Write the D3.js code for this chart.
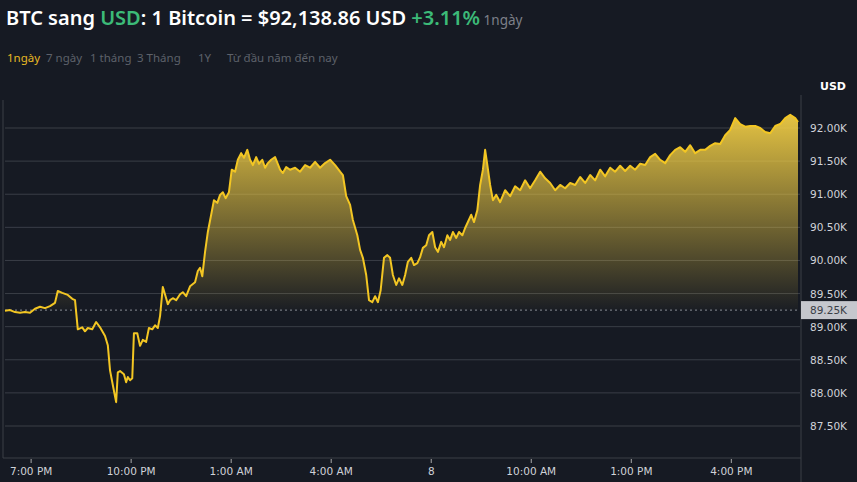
<!DOCTYPE html><html><head><meta charset="utf-8">
<script src="https://cdn.jsdelivr.net/npm/d3@7"></script>
<style>body{margin:0;background:#161a23;font-family:"Noto Sans",sans-serif}</style></head><body>
<svg id="c" width="857" height="482"></svg>
<script>
const minutes=[0,9,18,27,36,45,54,63,72,81,90,95,103,113,121,126,131,139,144,149,157,164,171,180,185,189,194,200,203,207,214,218,221,225,229,232,238,243,248,254,259,265,270,275,279,284,290,293,297,302,308,315,320,326,333,342,347,351,355,360,365,371,376,382,387,392,397,403,408,414,419,425,430,436,441,446,452,457,463,468,473,479,486,495,500,506,513,522,531,540,549,558,567,576,585,594,603,608,614,621,626,634,639,644,650,655,661,666,671,676,682,688,693,698,704,709,715,720,725,731,736,742,747,752,758,763,769,774,779,785,790,796,801,806,812,817,823,828,833,839,844,850,855,860,864,868,873,878,884,891,900,909,918,927,936,945,954,963,972,981,990,999,1008,1017,1026,1035,1044,1053,1062,1071,1080,1089,1098,1107,1116,1125,1134,1143,1152,1161,1170,1179,1188,1197,1206,1215,1224,1233,1242,1251,1260,1269,1278,1287,1296,1305,1314,1323,1332,1341,1350,1359,1368,1377,1386,1395,1404,1413,1422,1427];
const prices=[89.24,89.25,89.22,89.21,89.22,89.21,89.27,89.30,89.28,89.31,89.36,89.54,89.51,89.48,89.42,89.40,88.96,88.99,88.93,88.98,88.96,89.07,88.99,88.86,88.72,88.34,88.12,87.86,88.31,88.33,88.28,88.16,88.24,88.19,88.22,88.90,88.90,88.71,88.80,88.77,88.98,88.96,89.02,88.98,89.16,89.60,89.43,89.34,89.40,89.43,89.40,89.49,89.52,89.46,89.61,89.67,89.84,89.89,89.76,90.13,90.43,90.69,90.91,90.87,90.99,91.03,90.94,91.03,91.37,91.34,91.52,91.62,91.55,91.67,91.52,91.44,91.56,91.46,91.52,91.40,91.47,91.52,91.56,91.37,91.32,91.41,91.37,91.40,91.34,91.44,91.40,91.49,91.40,91.47,91.52,91.44,91.34,91.29,90.97,90.84,90.61,90.38,90.16,90.04,89.78,89.40,89.37,89.46,89.37,89.55,90.04,90.08,90.04,89.78,89.63,89.73,89.63,89.78,89.98,90.04,89.93,89.96,90.05,90.19,90.23,90.38,90.43,90.20,90.13,90.28,90.20,90.38,90.31,90.43,90.34,90.43,90.38,90.49,90.58,90.69,90.58,90.76,91.14,91.37,91.67,91.44,91.14,90.91,90.99,90.88,91.06,90.97,91.12,91.06,91.21,91.09,91.21,91.34,91.24,91.17,91.06,91.14,91.09,91.17,91.14,91.26,91.17,91.29,91.21,91.37,91.27,91.40,91.34,91.43,91.35,91.43,91.37,91.46,91.44,91.56,91.61,91.52,91.47,91.59,91.67,91.71,91.64,91.74,91.62,91.67,91.67,91.73,91.77,91.76,91.89,91.97,92.15,92.06,92.02,92.03,92.03,92.00,91.94,91.92,92.03,92.06,92.15,92.20,92.15,92.09];
const yTicks=[87.5,88,88.5,89,89.5,90,90.5,91,91.5,92];
const xTickMin=[47,227,407,587,767,947,1127,1307];
const xTickLabels=["7:00 PM","10:00 PM","1:00 AM","4:00 AM","8","10:00 AM","1:00 PM","4:00 PM"];
const baseline=89.25;
const data=minutes.map((m,i)=>({m,p:prices[i]}));
const svg=d3.select("#c");
const x=d3.scaleLinear().domain([0,1427]).range([5,798]);
const y=d3.scaleLinear().domain([87.5,92]).range([426,128]);
const defs=svg.append("defs");
const grad=defs.append("linearGradient").attr("id","g").attr("x1",0).attr("x2",0).attr("gradientUnits","userSpaceOnUse").attr("y1",y(92.25)).attr("y2",y(baseline));
grad.append("stop").attr("offset","0%").attr("stop-color","#f3cf45").attr("stop-opacity",0.95);
grad.append("stop").attr("offset","100%").attr("stop-color","#f3cf45").attr("stop-opacity",0.02);
defs.append("clipPath").attr("id","cl").append("rect").attr("x",0).attr("y",0).attr("width",800).attr("height",y(baseline));
svg.append("g").selectAll("line").data(yTicks).join("line").attr("x1",5).attr("x2",800).attr("y1",d=>y(d)).attr("y2",d=>y(d)).attr("stroke","#3a3e47");
svg.append("line").attr("x1",3).attr("x2",3).attr("y1",100).attr("y2",458).attr("stroke","#3a3e47");
svg.append("path").datum(data).attr("clip-path","url(#cl)").attr("fill","url(#g)").attr("d",d3.area().x(d=>x(d.m)).y0(y(baseline)).y1(d=>y(d.p)));
svg.append("line").attr("x1",5).attr("x2",800).attr("y1",y(baseline)).attr("y2",y(baseline)).attr("stroke","#8a8d95").attr("stroke-dasharray","2,3");
svg.append("path").datum(data).attr("fill","none").attr("stroke","#f3c623").attr("stroke-width",2).attr("stroke-linejoin","round").attr("d",d3.line().x(d=>x(d.m)).y(d=>y(d.p)));
const ax="DejaVu Sans";
svg.append("line").attr("x1",801).attr("x2",801).attr("y1",95).attr("y2",482).attr("stroke","#3a3e47");
svg.append("g").selectAll("text").data(yTicks).join("text").attr("x",810).attr("y",d=>y(d)+4).attr("fill","#d0d2d8").attr("font-family",ax).attr("font-size",10.5).text(d=>d3.format(".2f")(d)+"K");
svg.append("rect").attr("x",801).attr("y",y(baseline)-9).attr("width",56).attr("height",18).attr("fill","#c5c7cd");
svg.append("text").attr("x",810).attr("y",y(baseline)+4).attr("fill","#3a3e47").attr("font-family",ax).attr("font-size",10.5).text(baseline.toFixed(2)+"K");
svg.append("text").attr("x",846).attr("y",90).attr("text-anchor","end").attr("fill","#fff").attr("font-family",ax).attr("font-size",11).attr("font-weight","bold").text("USD");
svg.append("line").attr("x1",3).attr("x2",801).attr("y1",458).attr("y2",458).attr("stroke","#3a3e47");
const xt=svg.append("g").selectAll("g").data(xTickMin).join("g").attr("transform",d=>`translate(${x(d)},0)`);
xt.append("line").attr("y1",459).attr("y2",463).attr("stroke","#aaa");
xt.append("text").attr("y",475).attr("text-anchor","middle").attr("fill","#d0d2d8").attr("font-family",ax).attr("font-size",10.5).text((d,i)=>xTickLabels[i]);
const t=svg.append("text").attr("x",6).attr("y",25).attr("font-size",20).attr("font-weight",600).attr("fill","#fff");
t.append("tspan").text("BTC sang ");
t.append("tspan").attr("fill","#3cba78").text("USD");
t.append("tspan").text(": 1 Bitcoin = $92,138.86 USD ");
t.append("tspan").attr("fill","#3cba78").text("+3.11%");
t.append("tspan").attr("fill","#7d8089").attr("font-size",13.5).attr("font-weight","normal").text(" 1ngày");
const tabs=[["1ngày",7,"#e8b923"],["7 ngày",46,"#5d616a"],["1 tháng",90,"#5d616a"],["3 Tháng",137,"#5d616a"],["1Y",198,"#5d616a"],["Từ đầu năm đến nay",227,"#5d616a"]];
svg.append("g").selectAll("text").data(tabs).join("text").attr("x",d=>d[1]).attr("y",62).attr("font-size",11.5).attr("fill",d=>d[2]).text(d=>d[0]);
</script></body></html>
